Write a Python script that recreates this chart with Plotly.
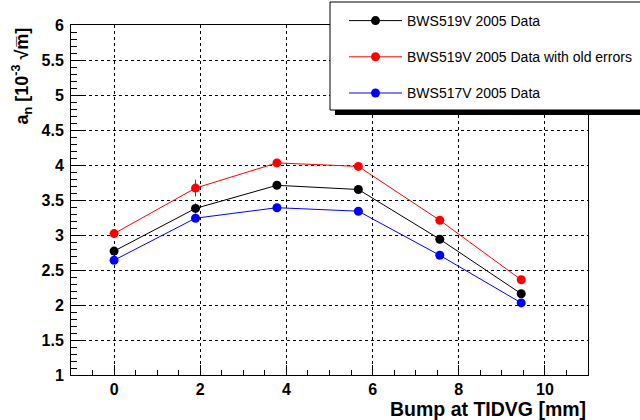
import plotly.graph_objects as go

bump = [0, 1.89, 3.78, 5.67, 7.56, 9.45]
bws519 = [2.77, 3.38, 3.71, 3.65, 2.94, 2.16]
bws519_err = [0.03, 0.07, 0.03, 0.03, 0.03, 0.03]
bws519_old = [3.02, 3.67, 4.03, 3.98, 3.21, 2.36]
bws519_old_err = [0.03, 0.12, 0.03, 0.03, 0.03, 0.03]
bws517 = [2.64, 3.24, 3.39, 3.34, 2.71, 2.03]
bws517_err = [0.02, 0.03, 0.02, 0.02, 0.02, 0.02]

x_ticks = [0, 2, 4, 6, 8, 10]
x_labels = ["0", "2", "4", "6", "8", "10"]
y_ticks = [1, 1.5, 2, 2.5, 3, 3.5, 4, 4.5, 5, 5.5, 6]
y_labels = ["1", "1.5", "2", "2.5", "3", "3.5", "4", "4.5", "5", "5.5", "6"]

names = ["BWS519V 2005 Data", "BWS519V 2005 Data with old errors", "BWS517V 2005 Data"]
series = [bws519, bws519_old, bws517]
errors = [bws519_err, bws519_old_err, bws517_err]
colors = ["#000000", "#ff0000", "#0000ff"]

FONT = "Liberation Sans, Arial, Helvetica, sans-serif"

fig = go.Figure()
for i, (nm, ys, er, c) in enumerate(zip(names, series, errors, colors)):
    fig.add_trace(go.Scatter(
        x=bump, y=ys, name=nm, mode="lines+markers",
        line=dict(color=c, width=1),
        marker=dict(color=c, size=9, symbol="circle"),
        error_y=dict(type="data", array=er, color=c, thickness=1, width=0),
        legendgroup=f"g{i}",
    ))

L, R, T, B = 71, 52, 25, 45
W, H = 640, 420
pw, ph = W - L - R, H - T - B

def px_x(p):
    return (p - L) / pw

def px_y(p):
    return (H - B - p) / ph

fig.update_layout(
    width=W, height=H,
    margin=dict(l=L, r=R, t=T, b=B, pad=0, autoexpand=False),
    paper_bgcolor="white", plot_bgcolor="white",
    font=dict(family=FONT, color="black"),
    showlegend=True,
    legend=dict(
        xref="container", yref="container",
        x=344 / W, y=1 - 5 / H, xanchor="left", yanchor="top",
        bgcolor="rgba(0,0,0,0)", borderwidth=0,
        font=dict(family=FONT, size=14, color="black"),
        tracegroupgap=15, itemwidth=53,
    ),
    xaxis=dict(
        range=[-1, 11], tickvals=x_ticks, ticktext=[f"<b>{t}</b>" for t in x_labels],
        showline=True, linecolor="black", linewidth=1, mirror=True,
        ticks="inside", ticklen=10, tickcolor="black",
        minor=dict(dtick=0.5, tick0=0, ticks="inside", ticklen=5, tickcolor="black", showgrid=False),
        showgrid=True, gridcolor="black", griddash="dot", gridwidth=1,
        zeroline=False,
        tickfont=dict(family=FONT, size=16, color="black"),
        ticklabelstandoff=0,
    ),
    yaxis=dict(
        range=[1, 6], tickvals=y_ticks, ticktext=[f"<b>{t}</b>" for t in y_labels],
        showline=True, linecolor="black", linewidth=1, mirror=True,
        ticks="inside", ticklen=12, tickcolor="black",
        minor=dict(dtick=0.1, tick0=1, ticks="inside", ticklen=6, tickcolor="black", showgrid=False),
        showgrid=True, gridcolor="black", griddash="dot", gridwidth=1,
        zeroline=False,
        tickfont=dict(family=FONT, size=16, color="black"),
        ticklabelstandoff=3,
    ),
    shapes=[
        dict(type="rect", xref="paper", yref="paper",
             x0=px_x(335), x1=px_x(700), y0=px_y(115), y1=px_y(8),
             fillcolor="black", line=dict(width=0), layer="above"),
        dict(type="rect", xref="paper", yref="paper",
             x0=px_x(330), x1=px_x(700), y0=px_y(110), y1=px_y(2),
             fillcolor="white", line=dict(color="black", width=1), layer="above"),
    ],
    annotations=[
        dict(text="<b>Bump at TIDVG [mm]</b>", xref="paper", yref="paper",
             x=1, y=px_y(409), xanchor="right", yanchor="middle",
             showarrow=False, font=dict(family=FONT, size=19.5, color="black")),
        dict(text="<b>a<sub>n</sub> [10<sup>-3</sup> √m̅]</b>", xref="paper", yref="paper",
             x=px_x(22), y=px_y(26), xanchor="center", yanchor="top", textangle=-90,
             showarrow=False, font=dict(family=FONT, size=18, color="black")),
    ],
)

fig.write_html("out.html")
